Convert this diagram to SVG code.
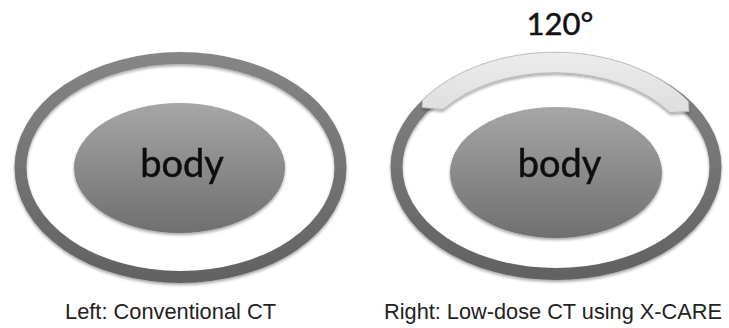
<svg xmlns="http://www.w3.org/2000/svg" width="729" height="328" viewBox="0 0 729 328">
  <defs>
    <linearGradient id="ringGrad" x1="0" y1="0" x2="0" y2="1">
      <stop offset="0" stop-color="#858585"/>
      <stop offset="1" stop-color="#626262"/>
    </linearGradient>
    <linearGradient id="bodyGrad" x1="0" y1="0" x2="0" y2="1">
      <stop offset="0" stop-color="#a6a6a6"/>
      <stop offset="1" stop-color="#6f6f6f"/>
    </linearGradient>
    <linearGradient id="arcGrad" x1="0" y1="0" x2="0" y2="1">
      <stop offset="0" stop-color="#ececec"/>
      <stop offset="1" stop-color="#dedede"/>
    </linearGradient>
    <filter id="soft" x="-10%" y="-10%" width="120%" height="125%">
      <feGaussianBlur in="SourceAlpha" stdDeviation="1.6"/>
      <feOffset dy="2" result="b"/>
      <feComponentTransfer><feFuncA type="linear" slope="0.35"/></feComponentTransfer>
      <feMerge><feMergeNode/><feMergeNode in="SourceGraphic"/></feMerge>
    </filter>
  </defs>
  <style>
    .ring { fill: none; stroke: url(#ringGrad); stroke-width: 12; }
    .body { fill: url(#bodyGrad); }
    .label { font-family: "Lato", "Liberation Sans", sans-serif; fill: #111; stroke: #111; stroke-width: 0.5; text-anchor: middle; }
    .caption { font-family: "Liberation Sans", Arial, sans-serif; font-size: 22px; fill: #222; }
    .arc { fill: url(#arcGrad); stroke: #b0b0b0; stroke-width: 0.8; }
  </style>

  <rect width="729" height="328" fill="#ffffff"/>

  <!-- Left: full detector ring -->
  <g id="left-ring" filter="url(#soft)">
    <ellipse class="ring" cx="180.5" cy="167.5" rx="160" ry="109.5"/>
  </g>
  <g id="left-body" filter="url(#soft)">
    <ellipse class="body" cx="179.5" cy="168" rx="105.5" ry="65"/>
    <text class="label" x="182" y="177" font-size="38">body</text>
  </g>

  <!-- Right: ring with the 120° low-dose sector -->
  <g id="right-ring" filter="url(#soft)">
    <ellipse class="ring" cx="556" cy="167" rx="159.5" ry="107"/>
  </g>
  <g id="right-sector" filter="url(#soft)">
    <path class="arc" d="M 422 107.5 L 422.5 100 A 163 115 0 0 1 688.5 101.5 L 689 111.5 L 670 112.5 A 141 94 0 0 0 443 109.5 Z"/>
  </g>
  <g id="right-body" filter="url(#soft)">
    <ellipse class="body" cx="556" cy="172.5" rx="106" ry="65.5"/>
    <text class="label" x="559.5" y="177" font-size="38">body</text>
  </g>
  <g id="angle-label">
    <text class="label" x="560" y="35" font-size="31">120°</text>
  </g>

  <g id="connectors"/>

  <g id="captions">
    <text class="caption" x="65" y="319" textLength="211" lengthAdjust="spacingAndGlyphs">Left: Conventional CT</text>
    <text class="caption" x="384" y="319" textLength="338" lengthAdjust="spacingAndGlyphs">Right: Low-dose CT using X-CARE</text>
  </g>
</svg>
